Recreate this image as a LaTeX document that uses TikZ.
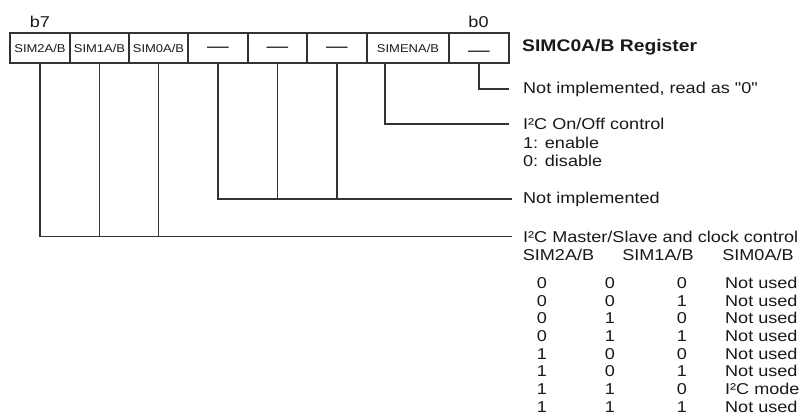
\documentclass[tikz,border=0pt]{standalone}
\usepackage{fontspec}
\newfontfamily\regfont[FakeStretch=1.15]{Liberation Sans}
\usetikzlibrary{calc}
\definecolor{LineClr}{rgb}{0.2,0.2,0.2}
\definecolor{TextClr}{rgb}{0.1,0.1,0.1}

\begin{document}
\begin{tikzpicture}[x=1pt,y=-1pt,
  regbox/.style={draw=LineClr,line width=1.3pt,minimum height=30pt,inner sep=0pt,
    text height=8pt,text depth=0pt,text=TextClr,font=\regfont\fontsize{11.3}{12}\selectfont},
  dashbox/.style={regbox,font=\regfont\fontsize{18.8}{20}\selectfont},
  bitlbl/.style={anchor=base,text=TextClr,font=\regfont\fontsize{15.7}{18}\selectfont},
  desc/.style={anchor=west,inner sep=0pt,text=TextClr,font=\regfont\fontsize{15.7}{18}\selectfont},
  cell/.style={anchor=base,inner sep=0pt,text=TextClr,font=\regfont\fontsize{15.7}{18}\selectfont},
  wire/.style={draw=LineClr,line width=1.3pt}]

\useasboundingbox (0,0) rectangle (806,418);

\node[regbox,minimum width=60pt] (r7) at (40,48) {SIM2A/B};
\node[regbox,minimum width=59pt] (r6) at (99.5,48) {SIM1A/B};
\node[regbox,minimum width=59pt] (r5) at (158.5,48) {SIM0A/B};
\node[dashbox,minimum width=60pt] (r4) at (218,48) {—};
\node[dashbox,minimum width=59pt] (r3) at (277.5,48) {—};
\node[dashbox,minimum width=60pt] (r2) at (337,48) {—};
\node[regbox,minimum width=82pt] (r1) at (408,48) {SIMENA/B};
\node[dashbox,minimum width=60pt] (r0) at (479,48) {\raisebox{-4pt}{—}};

\node[bitlbl] (b7) at (40,27) {b7};
\node[bitlbl] (b0) at (478.5,27) {b0};

\node[desc,font=\regfont\bfseries\fontsize{16.8}{18}\selectfont] (title) at (522,47) {SIMC0A/B Register};

\node[desc] (t0) at (523,89) {Not implemented, read as "0"};
\node[desc] (t1) at (523,124) {I²C On/Off control};
\node[cell,anchor=base west] (t1a) at (523,148.5) {1: enable};
\node[cell,anchor=base west] (t1b) at (523,166) {0: disable};
\node[desc] (t2) at (523,199) {Not implemented};
\node[desc] (t3) at (523,236.5) {I²C Master/Slave and clock control};

\node[cell] (h2) at (558.5,260.5) {SIM2A/B};
\node[cell] (h1) at (658,260.5) {SIM1A/B};
\node[cell] (h0) at (758,260.5) {SIM0A/B};

\foreach \a/\b/\c/\m [count=\k from 0] in {0/0/0/Not used,0/0/1/Not used,
    0/1/0/Not used,0/1/1/Not used,1/0/0/Not used,1/0/1/Not used,
    1/1/0/I²C mode,1/1/1/Not used}{
  \node[cell] (c2-\k) at (542,{288.4+17.7*\k}) {\a};
  \node[cell] (c1-\k) at (610,{288.4+17.7*\k}) {\b};
  \node[cell] (c0-\k) at (682,{288.4+17.7*\k}) {\c};
  \node[cell,anchor=base west] (m-\k) at (725,{288.4+17.7*\k}) {\m};
}

\draw[wire] (r0.south) |- ([xshift=-14pt]t0.west);
\draw[wire] ([xshift=-23pt]r1.south) |- ([xshift=-14pt]t1.west);

\draw[wire] (r4.south) |- ([xshift=-11pt]t2.west);
\draw[wire] (r3.south) -- (r3.south |- t2.west);
\draw[wire] (r2.south) -- (r2.south |- t2.west);

\draw[wire] (r7.south) |- ([xshift=-11pt]t3.west);
\draw[wire] (r6.south) -- (r6.south |- t3.west);
\draw[wire] (r5.south) -- (r5.south |- t3.west);

\end{tikzpicture}
\end{document}
